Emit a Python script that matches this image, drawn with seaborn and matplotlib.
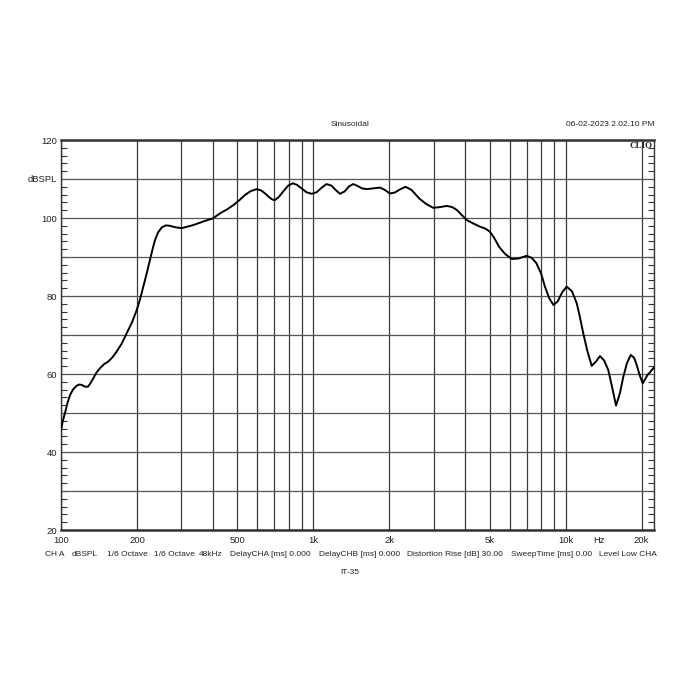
import matplotlib
matplotlib.use("Agg")
import matplotlib.pyplot as plt
import matplotlib.transforms as mtransforms
from matplotlib.ticker import FixedLocator, MultipleLocator, NullFormatter
import pandas as pd
import seaborn as sns

# ---- data (frequency in Hz, level in dB SPL) ----
freq_hz = [100, 101.5, 103.7, 106, 108.6, 111.5, 115.4, 118, 120.8, 124, 127.6,
           130.5, 134.3, 138, 142.8, 148, 154, 160, 166, 174, 182, 191, 199.6,
           206, 212, 219, 225, 231, 236, 243, 251, 260, 270, 285, 301, 318, 335,
           352, 370, 400, 427, 455, 482, 510, 536, 565, 596, 620, 644, 672, 690,
           705, 730, 760, 795, 829, 862, 898, 940, 985, 1030, 1080, 1128, 1180,
           1230, 1276, 1330, 1385, 1438, 1500, 1560, 1630, 1730, 1840, 1920,
           2010, 2100, 2200, 2320, 2450, 2630, 2800, 2990, 3180, 3380, 3550,
           3700, 3870, 4050, 4300, 4570, 4800, 5010, 5200, 5450, 5750, 6110,
           6500, 7000, 7330, 7660, 8000, 8280, 8600, 8940, 9300, 9700, 10100,
           10600, 11070, 11400, 11750, 12200, 12690, 13200, 13680, 14200, 14760,
           15300, 15840, 16400, 16930, 17500, 18120, 18700, 19130, 19700, 20220,
           20700, 21080, 21700, 22400]
spl_db = [45.5, 47.8, 50.0, 52.5, 54.6, 56.0, 57.0, 57.3, 57.2, 56.8, 56.7,
          57.5, 58.9, 60.3, 61.5, 62.5, 63.2, 64.3, 65.7, 67.8, 70.4, 73.2, 76.4,
          79.3, 82.4, 86.0, 89.2, 92.2, 94.4, 96.4, 97.6, 98.1, 98.0, 97.6, 97.4,
          97.8, 98.2, 98.7, 99.2, 99.9, 101.2, 102.2, 103.3, 104.6, 105.9, 106.9,
          107.4, 107.1, 106.3, 105.2, 104.7, 104.6, 105.4, 106.8, 108.3, 108.9,
          108.5, 107.6, 106.6, 106.2, 106.6, 107.8, 108.7, 108.3, 107.1, 106.2,
          106.8, 108.1, 108.7, 108.2, 107.6, 107.4, 107.6, 107.8, 107.2, 106.3,
          106.5, 107.3, 108.0, 107.2, 105.0, 103.6, 102.6, 102.8, 103.1, 102.8,
          102.1, 100.8, 99.5, 98.6, 97.8, 97.3, 96.5, 95.0, 92.6, 90.8, 89.5,
          89.6, 90.3, 89.8, 88.4, 85.7, 82.4, 79.5, 77.7, 78.6, 81.0, 82.4, 81.2,
          78.1, 74.5, 70.4, 65.8, 62.1, 63.2, 64.6, 63.5, 61.0, 56.5, 51.9, 55.0,
          59.3, 62.8, 64.9, 64.1, 62.3, 59.5, 57.6, 58.8, 59.7, 60.6, 61.7]

x_grid = [100, 200, 300, 400, 500, 600, 700, 800, 900, 1000, 2000, 3000, 4000,
          5000, 6000, 7000, 8000, 9000, 10000, 20000]
x_labels = {100: "100", 200: "200", 500: "500", 1000: "1k", 2000: "2k",
            5000: "5k", 10000: "10k", 20000: "20k"}
y_grid = [20, 30, 40, 50, 60, 70, 80, 90, 100, 110, 120]
y_labels = {20: "20", 40: "40", 60: "60", 80: "80", 100: "100", 110: "dBSPL",
            120: "120"}

title_text = "Sinusoidal"
date_text = "06-02-2023 2.02.10 PM"
info_parts = ["CH A", "dBSPL", "1/6 Octave", "1/6 Octave", "48kHz",
              "DelayCHA [ms] 0.000", "DelayCHB [ms] 0.000",
              "Distortion Rise [dB] 30.00", "SweepTime [ms] 0.00", "Level Low CHA"]
info_x_px = [45, 72, 107, 154, 199, 230, 319, 407, 511, 599]
name_text = "IT-35"

df = pd.DataFrame({"freq": freq_hz, "spl": spl_db})

sns.set_style("white")
plt.rcParams["font.family"] = ["Liberation Sans", "DejaVu Sans"]
fs = 6.8
fs_small = 6.0
txt_col = "#222222"

fig = plt.figure(figsize=(7, 7), dpi=100)
ax = fig.add_axes([61 / 700, 1 - 530 / 700, (654 - 61) / 700, (530 - 140) / 700])
ax.set_xscale("log")
ax.set_xlim(100, 22400)
ax.set_ylim(20, 120)

grid_col = "#3c3c3c"
for xv in x_grid:
    ax.axvline(xv, color=grid_col, lw=0.9, zorder=1)
for yv in y_grid:
    ax.axhline(yv, color="#555555", lw=0.9, zorder=1)

sns.lineplot(data=df, x="freq", y="spl", ax=ax, color="black", lw=1.4,
             estimator=None, sort=False, zorder=3)

ax.set_xlabel("")
ax.set_ylabel("")
ax.xaxis.set_major_locator(FixedLocator(list(x_labels.keys())))
ax.set_xticklabels(list(x_labels.values()), fontsize=fs, color=txt_col)
ax.xaxis.set_minor_locator(FixedLocator([]))
ax.xaxis.set_minor_formatter(NullFormatter())
ax.tick_params(axis="x", which="both", length=0, pad=4)

ax.yaxis.set_major_locator(FixedLocator(list(y_labels.keys())))
ax.set_yticklabels(list(y_labels.values()), fontsize=fs, color=txt_col)
ax.yaxis.set_minor_locator(MultipleLocator(2))
ax.tick_params(axis="y", which="major", length=0, pad=3)
ax.tick_params(axis="y", which="minor", direction="in", length=4, width=0.8,
               color="#333333", left=True, right=True)

trans = mtransforms.blended_transform_factory(ax.transData, ax.transAxes)
ax.text(13500, -5.6 / 390, "Hz", transform=trans, ha="center", va="top",
        fontsize=fs, color=txt_col)
ax.text(0.998, 0.996, "CLIO", transform=ax.transAxes, ha="right", va="top",
        fontsize=6.5, fontweight="bold", family="Liberation Serif", zorder=5)

for side in ["top", "bottom"]:
    ax.spines[side].set_linewidth(1.8)
    ax.spines[side].set_color("#333333")
for side in ["left", "right"]:
    ax.spines[side].set_linewidth(1.0)
    ax.spines[side].set_color("#333333")

fig.text(0.5, 1 - 125 / 700, title_text, ha="center", va="center",
         fontsize=fs_small, color=txt_col)
fig.text(655 / 700, 1 - 125 / 700, date_text, ha="right", va="center",
         fontsize=fs_small, color=txt_col)
for part, xp in zip(info_parts, info_x_px):
    fig.text(xp / 700, 1 - 555 / 700, part, ha="left", va="center",
             fontsize=fs_small, color=txt_col)
fig.text(350 / 700, 1 - 572 / 700, name_text, ha="center", va="center",
         fontsize=fs_small, color=txt_col)

fig.savefig("out.png", dpi=100, facecolor="white")
